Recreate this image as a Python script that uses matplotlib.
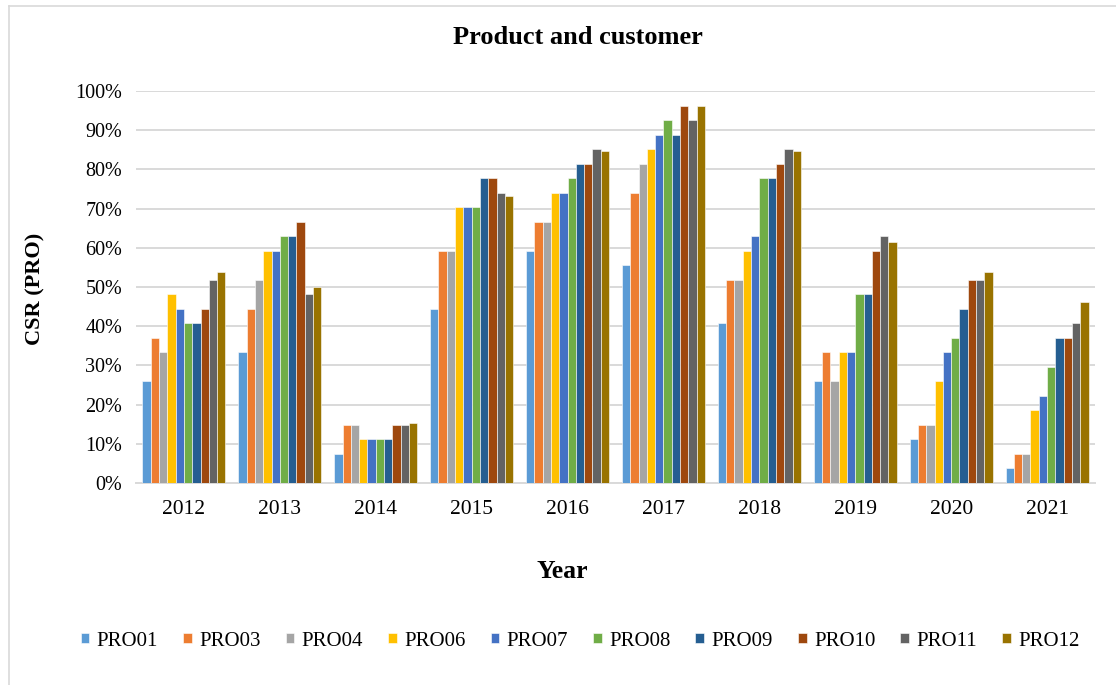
import numpy as np
import matplotlib.pyplot as plt
from matplotlib.ticker import PercentFormatter
from matplotlib.lines import Line2D

plt.rcParams['font.family'] = ['Liberation Serif', 'DejaVu Serif']

years = ['2012', '2013', '2014', '2015', '2016', '2017', '2018', '2019', '2020', '2021']
products = ['PRO01', 'PRO03', 'PRO04', 'PRO06', 'PRO07', 'PRO08', 'PRO09', 'PRO10', 'PRO11', 'PRO12']
colors = ['#5B9BD5', '#ED7D31', '#A5A5A5', '#FFC000', '#4472C4',
          '#70AD47', '#255E91', '#9E480E', '#636363', '#997300']

# CSR values (%) per product, one value per year 2012..2021
pro01 = [25.9, 33.3, 7.4, 44.4, 59.3, 55.6, 40.7, 25.9, 11.1, 3.7]
pro03 = [37.0, 44.4, 14.8, 59.3, 66.7, 74.1, 51.9, 33.3, 14.8, 7.4]
pro04 = [33.3, 51.9, 14.8, 59.3, 66.7, 81.5, 51.9, 25.9, 14.8, 7.4]
pro06 = [48.1, 59.3, 11.1, 70.4, 74.1, 85.2, 59.3, 33.3, 25.9, 18.5]
pro07 = [44.4, 59.3, 11.1, 70.4, 74.1, 88.9, 63.0, 33.3, 33.3, 22.2]
pro08 = [40.7, 63.0, 11.1, 70.4, 77.8, 92.6, 77.8, 48.1, 37.0, 29.6]
pro09 = [40.7, 63.0, 11.1, 77.8, 81.5, 88.9, 77.8, 48.1, 44.4, 37.0]
pro10 = [44.4, 66.7, 14.8, 77.8, 81.5, 96.3, 81.5, 59.3, 51.9, 37.0]
pro11 = [51.9, 48.1, 14.8, 74.1, 85.2, 92.6, 85.2, 63.0, 51.9, 40.7]
pro12 = [53.8, 50.0, 15.4, 73.1, 84.6, 96.2, 84.6, 61.5, 53.8, 46.2]
series = [pro01, pro03, pro04, pro06, pro07, pro08, pro09, pro10, pro11, pro12]

fig = plt.figure(figsize=(11.16, 6.85), dpi=100)
ax = fig.add_axes([136/1116, 1 - 483/685, (1095 - 136)/1116, (483 - 91)/685])

x = np.arange(len(years))
w = 0.0865
for i, (vals, c) in enumerate(zip(series, colors)):
    ax.bar(x + (i - 4.5) * w, vals, width=w, color=c, edgecolor='white',
           linewidth=0.4, label=products[i], zorder=3)

ax.set_xlim(-0.5, len(years) - 0.5)
ax.set_ylim(0, 100)
ax.set_yticks(np.arange(0, 101, 10))
ax.yaxis.set_major_formatter(PercentFormatter(decimals=0))
ax.set_xticks(x)
ax.set_xticklabels(years)
ax.grid(axis='y', color='#d9d9d9', linewidth=1.4, zorder=0)
for s in ['top', 'right', 'left']:
    ax.spines[s].set_visible(False)
ax.spines['bottom'].set_color('#d9d9d9')
ax.spines['bottom'].set_linewidth(1.4)
ax.tick_params(axis='both', length=0, colors='black')
ax.tick_params(axis='y', pad=10, labelsize=14.5)
ax.tick_params(axis='x', pad=12, labelsize=15.5)

fig.text(578/1116, 1 - 37/685, 'Product and customer', ha='center', va='center',
         fontsize=19, fontweight='bold')
fig.text(35/1116, 1 - 289/685, 'CSR (PRO)', ha='center', va='center',
         rotation=90, fontsize=16, fontweight='bold')
fig.text(562/1116, 1 - 572/685, 'Year', ha='center', va='center',
         fontsize=18.5, fontweight='bold')

handles, labels = ax.get_legend_handles_labels()
fig.legend(handles, labels, loc='center', bbox_to_anchor=(580/1116, 1 - 641/685),
           ncol=10, frameon=False, fontsize=15, handlelength=0.42,
           handleheight=0.42, handletextpad=0.35, columnspacing=1.2)

# outer chart border
fig.add_artist(Line2D([9/1116, 9/1116], [0, 1 - 6/685], color='#d9d9d9', lw=1.2))
fig.add_artist(Line2D([9/1116, 1], [1 - 6/685, 1 - 6/685], color='#d9d9d9', lw=1.2))

fig.savefig('out.png', dpi=100)
